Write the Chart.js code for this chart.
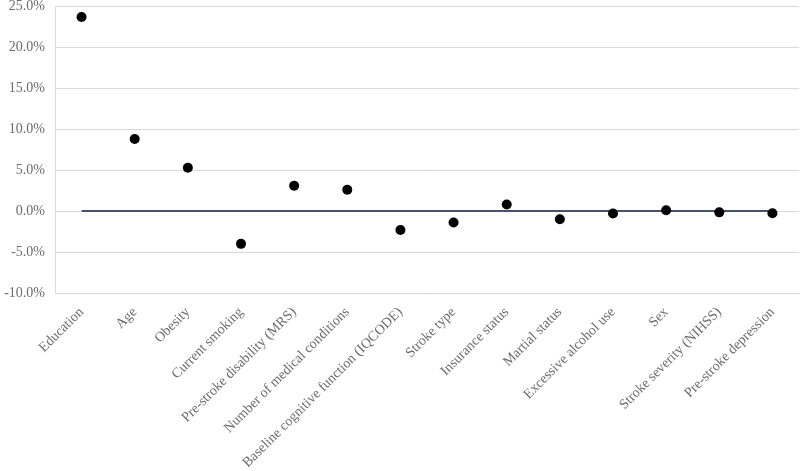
<!DOCTYPE html>
<html>
<head>
<meta charset="utf-8">
<script src="https://cdn.jsdelivr.net/npm/chart.js@4/dist/chart.umd.min.js"></script>
<style>
  html, body { margin: 0; padding: 0; background: #fff; overflow: hidden; width: 800px; height: 471px; }
  #wrap { position: relative; top: -12px; width: 804px; height: 483px; }
</style>
</head>
<body>
<div id="wrap"><canvas id="myChart"></canvas></div>
<script>
// predictors and their effect (percent)
var categories = ['Education', 'Age', 'Obesity', 'Current smoking', 'Pre-stroke disability (MRS)',
    'Number of medical conditions', 'Baseline cognitive function (IQCODE)', 'Stroke type',
    'Insurance status', 'Martial status', 'Excessive alcohol use', 'Sex',
    'Stroke severity (NIHSS)', 'Pre-stroke depression'];
var effects = [23.7, 8.8, 5.3, -4.0, 3.1, 2.6, -2.3, -1.4, 0.8, -1.0, -0.3, 0.1, -0.15, -0.25];
var baseline = [0, 0, 0, 0, 0, 0, 0, 0, 0, 0, 0, 0, 0, 0];
var yTicks = [-10, -5, 0, 5, 10, 15, 20, 25];

var ctx = document.getElementById('myChart').getContext('2d');
var myChart = new Chart(ctx, {
    type: 'line',
    data: {
        labels: categories,
        datasets: [{
            data: effects,
            showLine: false,
            pointRadius: 5,
            pointBackgroundColor: '#000',
            pointBorderColor: '#000',
            pointBorderWidth: 0,
            order: 0
        }, {
            data: baseline,
            borderColor: '#44546a',
            borderWidth: 2,
            pointRadius: 0,
            order: 1
        }]
    },
    options: {
        responsive: true,
        maintainAspectRatio: false,
        animation: false,
        plugins: { legend: { display: false }, tooltip: { enabled: false } },
        scales: {
            x: {
                offset: true,
                grid: { display: false },
                border: { color: '#d9d9d9' },
                afterFit: function (s) { s.height = 178; },
                ticks: {
                    color: '#6b6b6b',
                    font: { family: 'Liberation Serif', size: 14 },
                    minRotation: 45,
                    maxRotation: 45,
                    autoSkip: false
                }
            },
            y: {
                min: -10,
                max: 25,
                afterBuildTicks: function (axis) {
                    axis.ticks = yTicks.map(function (v) { return { value: v }; });
                },
                afterFit: function (s) { s.width = 55; },
                grid: { color: '#d9d9d9', drawTicks: false },
                border: { color: '#d9d9d9' },
                ticks: {
                    color: '#6b6b6b',
                    padding: 10,
                    font: { family: 'Liberation Serif', size: 14 },
                    callback: function (v) { return v.toFixed(1) + '%'; }
                }
            }
        }
    }
});
</script>
</body>
</html>
